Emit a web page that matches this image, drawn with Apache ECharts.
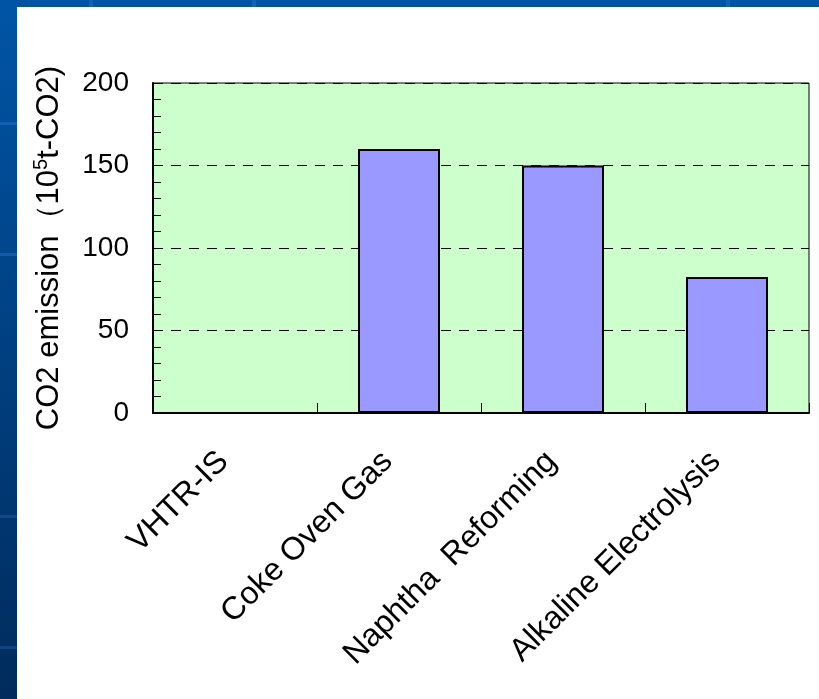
<!DOCTYPE html>
<html>
<head>
<meta charset="utf-8">
<script src="https://cdn.jsdelivr.net/npm/echarts@6/dist/echarts.min.js"></script>
<style>
  html, body { margin: 0; padding: 0; background: #fff; }
  #chart { width: 819px; height: 699px; }
</style>
</head>
<body>
<div id="chart"></div>
<script>
// data
var categories = ['VHTR-IS', 'Coke Oven Gas', 'Naphtha  Reforming', 'Alkaline Electrolysis'];
var emissions = [0, 160, 150, 82.5];
var yTicks = { min: 0, max: 200, step: 50 };

var font = '"Liberation Sans", Arial, sans-serif';

var chart = echarts.init(document.getElementById('chart'));

var option = {
  backgroundColor: '#ffffff',
  animation: false,
  graphic: [
    // slide frame: blue strip on the left and on top
    {
      type: 'rect', left: 0, top: 0, z: -10,
      shape: { width: 17, height: 699 },
      style: {
        fill: new echarts.graphic.LinearGradient(0, 0, 0, 1, [
          { offset: 0, color: '#0055a6' },
          { offset: 1, color: '#002b5c' }
        ])
      }
    },
    {
      type: 'rect', left: 0, top: 0, z: -10,
      shape: { width: 819, height: 7 },
      style: { fill: '#0054a5' }
    },
    { type: 'rect', left: 0, top: 122, z: -9, shape: { width: 17, height: 3 }, style: { fill: '#1a6cc0', opacity: 0.6 } },
    { type: 'rect', left: 0, top: 253, z: -9, shape: { width: 17, height: 3 }, style: { fill: '#1a6cc0', opacity: 0.6 } },
    { type: 'rect', left: 0, top: 515, z: -9, shape: { width: 17, height: 3 }, style: { fill: '#1a5aa0', opacity: 0.5 } },
    { type: 'rect', left: 0, top: 646, z: -9, shape: { width: 17, height: 3 }, style: { fill: '#1a5aa0', opacity: 0.5 } },
    { type: 'rect', left: 89, top: 0, z: -9, shape: { width: 4, height: 7 }, style: { fill: '#1a6cc0', opacity: 0.6 } },
    { type: 'rect', left: 252, top: 0, z: -9, shape: { width: 4, height: 7 }, style: { fill: '#1a6cc0', opacity: 0.6 } },
    { type: 'rect', left: 726, top: 0, z: -9, shape: { width: 4, height: 7 }, style: { fill: '#1a6cc0', opacity: 0.6 } }
  ],
  grid: {
    left: 153, top: 83, right: 10, bottom: 286,
    show: true,
    backgroundColor: '#ccffcc',
    borderColor: '#000',
    borderWidth: 1
  },
  xAxis: {
    type: 'category',
    data: categories,
    axisLine: { lineStyle: { color: '#000', width: 2 } },
    axisTick: { show: true, inside: true, length: 10, lineStyle: { color: '#000' } },
    axisLabel: {
      interval: 0,
      rotate: 45,
      margin: 55,
      verticalAlign: 'bottom',
      color: '#000',
      fontSize: 32,
      fontFamily: font
    },
    splitLine: { show: false }
  },
  yAxis: {
    type: 'value',
    min: yTicks.min,
    max: yTicks.max,
    interval: yTicks.step,
    name: 'CO2 emission（10{sup|5}t-CO2)',
    nameLocation: 'middle',
    nameGap: 86,
    nameTextStyle: {
      color: '#000',
      fontSize: 31,
      fontFamily: font,
      lineHeight: 36,
      rich: {
        sup: { fontSize: 20, fontFamily: font, color: '#000', verticalAlign: 'top', lineHeight: 20 }
      }
    },
    axisLine: { show: true, lineStyle: { color: '#000', width: 2 } },
    axisTick: { show: true, inside: true, length: 8, lineStyle: { color: '#000' } },
    minorTick: { show: true, splitNumber: 5, length: 8, lineStyle: { color: '#000' } },
    axisLabel: {
      color: '#000',
      fontSize: 28,
      fontFamily: font,
      margin: 24
    },
    splitLine: { show: true, lineStyle: { color: '#000', type: [10, 8], width: 1 } }
  },
  series: [{
    type: 'bar',
    data: emissions,
    barWidth: '50%',
    itemStyle: { color: '#9999ff', borderColor: '#000', borderWidth: 2 }
  }]
};

chart.setOption(option);
</script>
</body>
</html>
